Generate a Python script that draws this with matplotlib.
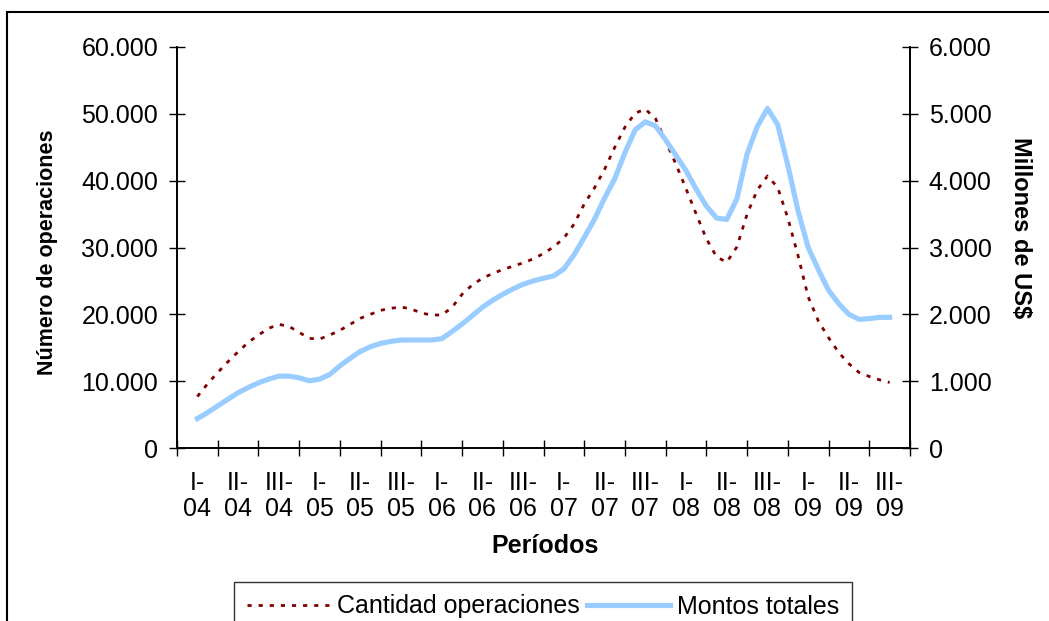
import numpy as np
import matplotlib
matplotlib.use("Agg")
import matplotlib.pyplot as plt
from matplotlib.patches import Rectangle
from matplotlib.ticker import FixedLocator, FuncFormatter

plt.rcParams['font.family'] = ['Liberation Sans', 'DejaVu Sans']

# periods (cuatrimestres) shown on the x axis
periods = ['I-\n04', 'II-\n04', 'III-\n04', 'I-\n05', 'II-\n05', 'III-\n05',
           'I-\n06', 'II-\n06', 'III-\n06', 'I-\n07', 'II-\n07', 'III-\n07',
           'I-\n08', 'II-\n08', 'III-\n08', 'I-\n09', 'II-\n09', 'III-\n09']

# monthly points, position in period units (4 per period)
t = np.arange(69) / 4.0

# number of operations (left axis)
cantidad = [7700, 9600, 11300, 12900, 14400, 15800, 16900, 17900, 18500,
            18200, 17300, 16400, 16300, 16900, 17600, 18500, 19400, 20000,
            20600, 20900, 21100, 20800, 20200, 19900, 19900, 21000, 23000,
            24400, 25400, 26100, 26700, 27200, 27700, 28300, 29100, 30100,
            31400, 33500, 36500, 38900, 41700, 45000, 48000, 50100, 50700,
            49300, 45900, 42500, 38800, 35000, 31300, 28600, 27800, 30100,
            35000, 38600, 40700, 39000, 34400, 28800, 22600, 19000, 16500,
            14300, 12600, 11300, 10700, 10200, 9800]

# total amounts, millions of US$ (right axis)
montos = [440, 530, 630, 730, 827, 905, 975, 1030, 1075, 1075, 1050, 1005,
          1030, 1100, 1230, 1340, 1445, 1515, 1565, 1595, 1615, 1616, 1616,
          1616, 1635, 1740, 1855, 1980, 2105, 2210, 2300, 2380, 2450, 2500,
          2540, 2575, 2680, 2890, 3150, 3420, 3740, 4030, 4420, 4760, 4880,
          4820, 4610, 4380, 4150, 3870, 3620, 3440, 3420, 3730, 4400, 4810,
          5080, 4840, 4230, 3550, 3000, 2670, 2360, 2160, 2000, 1925, 1935,
          1955, 1955]

red = '#800000'
blue = '#99CCFF'


def miles(v, pos):
    return f"{v:,.0f}".replace(",", ".")


fig = plt.figure(figsize=(10.49, 6.21), dpi=100)
ax1 = fig.add_axes([177 / 1049, 1 - 448 / 621, 733 / 1049, 401 / 621])
ax2 = ax1.twinx()

l1, = ax1.plot(t, cantidad, color=red, lw=2, linestyle=(0, (1.5, 2.5)),
               label='Cantidad operaciones')
l2, = ax2.plot(t, montos, color=blue, lw=3.7, label='Montos totales',
               solid_joinstyle='round')

ax1.set_xlim(-0.5, 17.5)
ax1.set_ylim(0, 60000)
ax2.set_ylim(0, 6000)
ax1.set_yticks(np.arange(0, 60001, 10000))
ax2.set_yticks(np.arange(0, 6001, 1000))
ax1.yaxis.set_major_formatter(FuncFormatter(miles))
ax2.yaxis.set_major_formatter(FuncFormatter(miles))

# ticks between periods, labels at period centres
ax1.xaxis.set_major_locator(FixedLocator(np.arange(-0.5, 18, 1)))
ax1.xaxis.set_major_formatter(FuncFormatter(lambda v, p: ''))
ax1.set_xticks(np.arange(len(periods)), periods, minor=True)
ax1.tick_params(axis='x', which='major', direction='inout', length=11,
                width=1, color='black')
ax1.tick_params(axis='x', which='minor', length=0, pad=16.5, labelsize=18)
for lab in ax1.get_xticklabels(minor=True):
    lab.set_linespacing(1.1)

ax1.tick_params(axis='y', direction='inout', length=11, width=1,
                labelsize=18, pad=8)
ax2.tick_params(axis='y', direction='inout', length=11, width=1,
                labelsize=18, pad=8)

for ax in (ax1, ax2):
    ax.spines['top'].set_visible(False)
    for s in ('left', 'right', 'bottom'):
        ax.spines[s].set_linewidth(1.2)
        ax.spines[s].set_color('black')

fig.text(48 / 1049, 1 - 252 / 621, 'Número de operaciones', rotation=90,
         ha='center', va='center', fontsize=15.5, fontweight='bold')
fig.text(1021 / 1049, 1 - 228 / 621, 'Millones de US$', rotation=270,
         ha='center', va='center', fontsize=17, fontweight='bold')
fig.text(545 / 1049, 1 - 546 / 621, 'Períodos', ha='center', va='center',
         fontsize=18, fontweight='bold')

leg = fig.legend([l1, l2], ['Cantidad operaciones', 'Montos totales'],
                 loc='upper center', bbox_to_anchor=(543 / 1049, 1 - 582 / 621),
                 ncol=2, fontsize=18, frameon=True, fancybox=False,
                 handlelength=3.3, handletextpad=0.3, columnspacing=0.3,
                 borderaxespad=0, borderpad=0.5)
leg.get_frame().set_edgecolor('black')
leg.get_frame().set_linewidth(1.0)

# outer chart frame, cut by the image edge
fig.patches.append(Rectangle((7 / 1049, -0.2), 1.2, 1.2 - 12 / 621,
                             transform=fig.transFigure, fill=False,
                             edgecolor='black', lw=1.5))

fig.savefig('out.png', dpi=100)
